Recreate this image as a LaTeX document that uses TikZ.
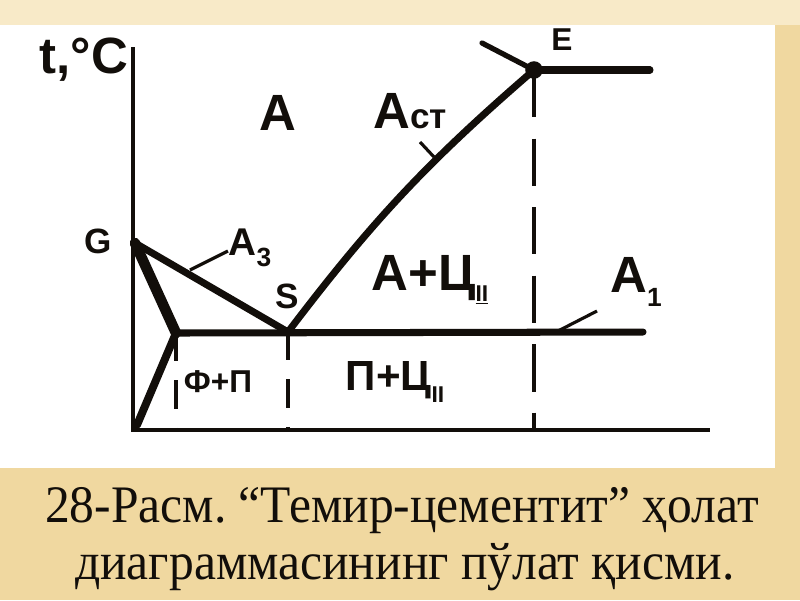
\documentclass[tikz,border=0pt]{standalone}
\usepackage{fontspec}
\setmainfont{Liberation Serif}[FakeStretch=0.94]
\newfontfamily\handfont{Liberation Sans}
\definecolor{beige}{RGB}{240,216,160}
\definecolor{paleband}{RGB}{248,234,200}
\definecolor{ink}{RGB}{18,14,10}
\tikzset{
  curve/.style={ink, line width=4pt, line cap=round, line join=round},
  axis/.style={ink, line width=2.3pt},
  guide/.style={ink, line width=2pt, dash pattern=on 16pt off 11pt},
  lbl/.style={text=ink, inner sep=0pt, font=\handfont\bfseries\fontsize{20}{20}\selectfont},
  biglbl/.style={text=ink, inner sep=0pt, font=\handfont\bfseries\fontsize{29}{29}\selectfont},
}
\frenchspacing
\begin{document}
\begin{tikzpicture}[x=0.02cm, y=-0.02cm]
%background and panel
\fill[beige] (0,0) rectangle (800,600);
\fill[paleband] (0,0) rectangle (800,25);
\fill[white] (0,25) rectangle (775,468);
\useasboundingbox (0,0) rectangle (800,600);

%key points
\coordinate (O) at (133,430);
\coordinate (G) at (135,243);
\coordinate (P) at (176,333);
\coordinate (S) at (288,332);
\coordinate (E) at (534,70);

%draw the axes
\draw[axis] (133,47) -- (O) -- (710,430);
\node[biglbl] (tC) at (84,60) {t,°C};

%draw the guide lines
\draw[guide] (P) -- (176,428);
\draw[guide] (S) -- (288,428);
\draw[guide, dash pattern=on 27pt off 12pt] (E) -- (534,428);

%draw the lines of the diagram
\draw[curve, line width=6pt] (G) -- (P);
\draw[curve, line width=4.5pt] (P) -- (137,425);
\draw[curve] (G) -- (S);
\draw[curve] (P) -- (643,332);
\draw[curve] (S) to[bend left=6] (E);
\draw[curve] (E) -- (650,70);
\draw[curve, line width=3pt] (E) -- (482,43);
\fill[ink] (E) circle [radius=5pt];
\fill[ink] (G) circle [radius=2.5pt];

%labels of points
\node[lbl] (Glbl) at (98,241) {G};
\node[lbl] (Slbl) at (287,296) {S};
\node[lbl, font=\handfont\bfseries\fontsize{18}{18}\selectfont] (Elbl) at (562,40) {E};

%labels of lines
\node[lbl, font=\handfont\bfseries\fontsize{22}{22}\selectfont] (A3) at (250,248) {A\raisebox{-6pt}{\fontsize{15}{15}\selectfont 3}};
\draw[ink, line width=1.8pt] (190,270) -- (228,251);
\node[biglbl] (Acm) at (410,111) {A\fontsize{20}{20}\selectfont ст};
\draw[ink, line width=1.8pt] (420,142) -- (434,157);
\node[biglbl] (A1) at (636,282) {A\raisebox{-8pt}{\fontsize{15}{15}\selectfont 1}};
\draw[ink, line width=1.8pt] (558,331) -- (597,311);

%labels of areas
\node[biglbl] (Aust) at (278,113) {A};
\node[biglbl] (AC) at (430,280) {A+Ц\raisebox{-6pt}{\fontsize{13}{13}\selectfont\underline{II}}};
\node[lbl, font=\handfont\bfseries\fontsize{18}{18}\selectfont] (FP) at (218,382) {Ф+П};
\node[lbl, font=\handfont\bfseries\fontsize{24}{24}\selectfont] (PC) at (395,382) {П+Ц\raisebox{-7pt}{\fontsize{13}{13}\selectfont II}};

%caption
\node[anchor=base, text=ink, font=\fontsize{30}{30}\selectfont, inner sep=0pt] (cap1) at (402,522) {28-Расм. “Темир-цементит” ҳолат};
\node[anchor=base, text=ink, font=\fontsize{30}{30}\selectfont, inner sep=0pt] (cap2) at (405,579) {диаграммасининг пўлат қисми.};
\end{tikzpicture}
\end{document}
